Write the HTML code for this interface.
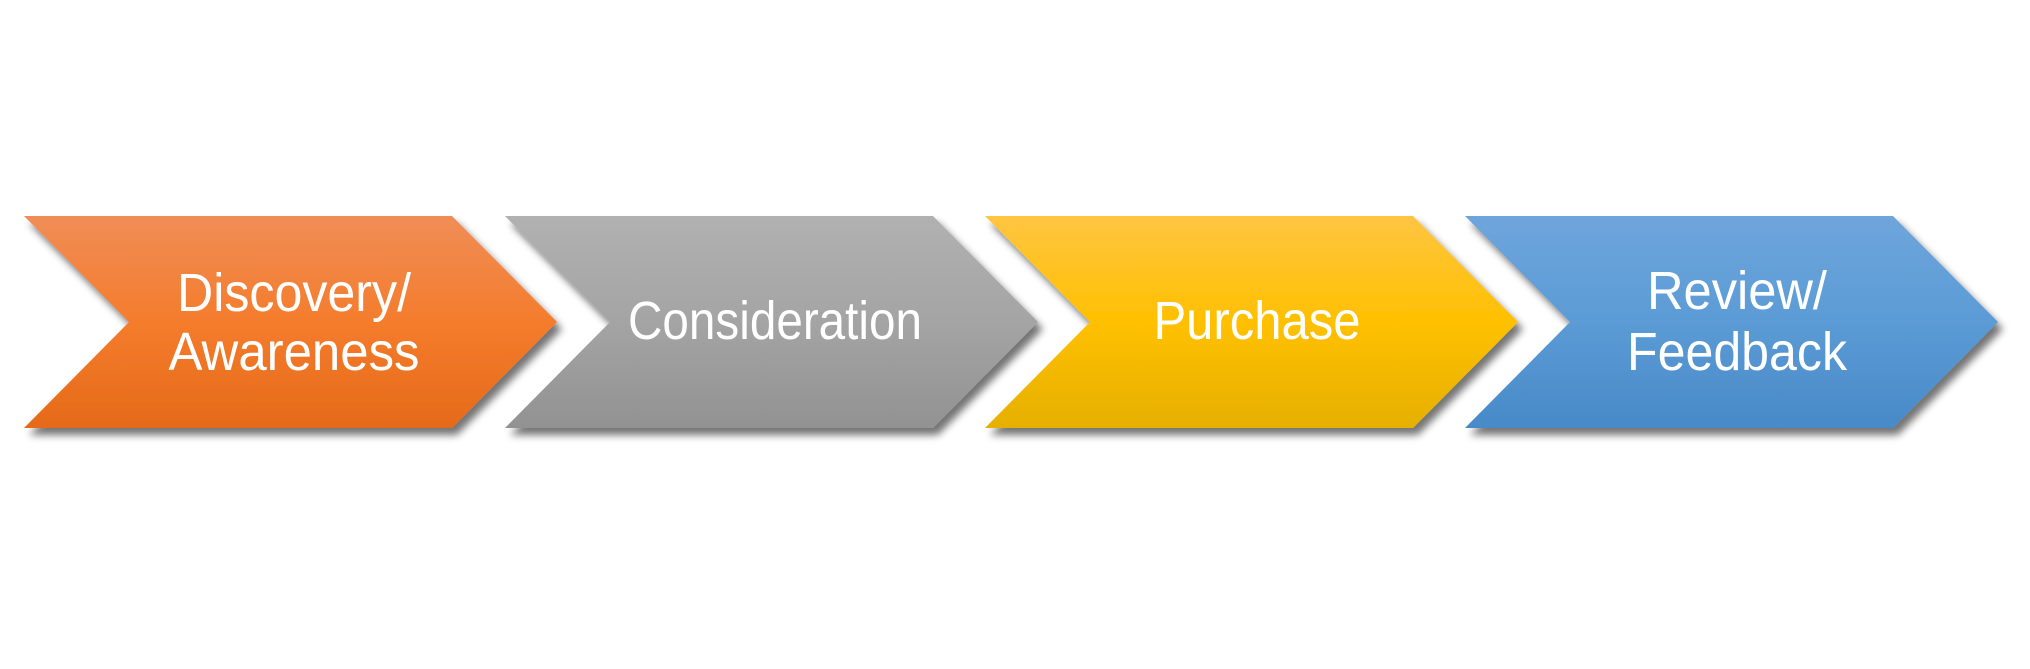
<!DOCTYPE html>
<html><head><meta charset="utf-8"><style>
html,body{margin:0;padding:0;background:#fff;}
svg{display:block}
</style></head><body>
<svg width="2030" height="669" viewBox="0 0 2030 669" xmlns="http://www.w3.org/2000/svg">
<defs>
<linearGradient id="go" x1="0" y1="0" x2="0" y2="1"><stop offset="0" stop-color="#f08d57"/><stop offset="0.5" stop-color="#f47c2c"/><stop offset="1" stop-color="#e56a19"/></linearGradient>
<linearGradient id="gg" x1="0" y1="0" x2="0" y2="1"><stop offset="0" stop-color="#b1b1b1"/><stop offset="0.5" stop-color="#a4a4a4"/><stop offset="1" stop-color="#929292"/></linearGradient>
<linearGradient id="gy" x1="0" y1="0" x2="0" y2="1"><stop offset="0" stop-color="#ffc542"/><stop offset="0.5" stop-color="#ffc000"/><stop offset="1" stop-color="#e5b000"/></linearGradient>
<linearGradient id="gb" x1="0" y1="0" x2="0" y2="1"><stop offset="0" stop-color="#6fa5dc"/><stop offset="0.5" stop-color="#5b9bd5"/><stop offset="1" stop-color="#4889c8"/></linearGradient>
<filter id="sh" x="-10%" y="-10%" width="130%" height="140%"><feGaussianBlur in="SourceAlpha" stdDeviation="4"/><feOffset dx="5" dy="7"/><feComponentTransfer><feFuncA type="linear" slope="0.55"/></feComponentTransfer><feMerge><feMergeNode/><feMergeNode in="SourceGraphic"/></feMerge></filter>
<polygon id="chev" points="0,0 428,0 533,106 428,212 0,212 105,106"/>
</defs>
<g filter="url(#sh)">
<use href="#chev" x="24" y="216" fill="url(#go)"/>
<use href="#chev" x="505" y="216" fill="url(#gg)"/>
<use href="#chev" x="985" y="216" fill="url(#gy)"/>
<use href="#chev" x="1465" y="216" fill="url(#gb)"/>
</g>
<g font-family="Liberation Sans, sans-serif" font-size="54" fill="#fff" text-anchor="middle" lengthAdjust="spacingAndGlyphs">
<text x="294" y="311" textLength="234" lengthAdjust="spacingAndGlyphs">Discovery/</text>
<text x="294" y="370" textLength="251" lengthAdjust="spacingAndGlyphs">Awareness</text>
<text x="775" y="339" textLength="294" lengthAdjust="spacingAndGlyphs">Consideration</text>
<text x="1257" y="339" textLength="207" lengthAdjust="spacingAndGlyphs">Purchase</text>
<text x="1737" y="309" textLength="180" lengthAdjust="spacingAndGlyphs">Review/</text>
<text x="1737" y="370" textLength="220" lengthAdjust="spacingAndGlyphs">Feedback</text>
</g>
</svg>
</body></html>
